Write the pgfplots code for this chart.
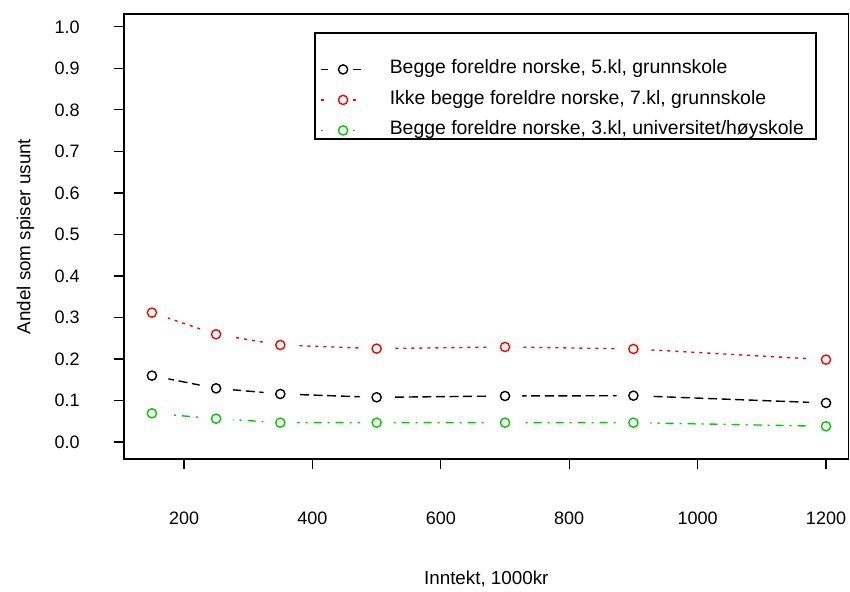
\documentclass[border=0pt]{standalone}
\usepackage{fontspec}
\setmainfont{Liberation Sans}
\usepackage{pgfplots}
\pgfplotsset{compat=1.18}
\definecolor{rred}{RGB}{255,0,0}
\definecolor{rgreen}{RGB}{0,205,0}
\begin{document}
\begin{tikzpicture}
\useasboundingbox (-62pt,-66pt) rectangle (363pt,229.5pt);
\begin{axis}[
  scale only axis,
  width=362.3pt, height=222.5pt,
  xmin=106.5, xmax=1235.2,
  ymin=-0.041, ymax=1.031,
  xtick={200,400,600,800,1000,1200},
  ytick={0,0.1,0.2,0.3,0.4,0.5,0.6,0.7,0.8,0.9,1.0},
  tick align=outside, tick pos=left,
  major tick length=5pt,
  every tick/.style={black, line width=0.6pt},
  axis line style={line width=0.7pt},
  /pgf/number format/assume math mode=true,
  /pgf/number format/1000 sep={},
  yticklabel style={/pgf/number format/.cd, fixed, fixed zerofill, precision=1, /tikz/.cd, anchor=east, inner sep=0pt, xshift=-17pt},
  xticklabel style={anchor=north, inner sep=0pt, yshift=-21.5pt},
  every tick label/.append style={font=\fontsize{9}{10}\selectfont},
  every axis x label/.style={at={(axis description cs:0.5,0)}, anchor=center, yshift=-60pt, font=\fontsize{9.4}{10}\selectfont},
  every axis y label/.style={at={(axis description cs:-0.136,0.5)}, anchor=center, rotate=90, font=\fontsize{9.4}{10}\selectfont},
  xlabel={Inntekt, 1000kr},
  ylabel={Andel som spiser usunt},
  legend style={draw=none, fill=none, inner sep=0pt, at={(rel axis cs:0.2705,0.8955)}, anchor=north west,
    font=\fontsize{9.7}{10}\selectfont, row sep=6.75pt, column sep=14pt,
    nodes={inner sep=0pt, text height=6.5pt, text depth=2pt}},
  legend cell align=left,
  legend image code/.code={
    \draw[#1,mark=none] (0pt,0pt) -- (3.5pt,0pt);
    \draw[#1,mark=none] (16pt,0pt) -- (20pt,0pt);
    \draw[#1,only marks] plot coordinates {(11pt,0pt)};
  },
]
% black
\addplot[black, line width=0.7pt, dash pattern=on 4.5pt off 2.3pt, mark=o, mark size=2.3pt, mark options={solid}]
  coordinates {(150,0.1598) (250,0.1293) (350,0.1157) (500,0.1076) (700,0.1108) (900,0.1116) (1200,0.094)};
\addlegendentry{Begge foreldre norske, 5.kl, grunnskole}
\addplot[forget plot, only marks, mark=*, mark size=8.2pt, mark options={draw=white, fill=white}]
  coordinates {(150,0.1598) (250,0.1293) (350,0.1157) (500,0.1076) (700,0.1108) (900,0.1116) (1200,0.094)};
\addplot[forget plot, only marks, black, line width=0.7pt, mark=o, mark size=2.3pt]
  coordinates {(150,0.1598) (250,0.1293) (350,0.1157) (500,0.1076) (700,0.1108) (900,0.1116) (1200,0.094)};
% red
\addplot[rred, line width=0.7pt, dash pattern=on 1.5pt off 2.5pt, mark=o, mark size=2.3pt, mark options={solid}]
  coordinates {(150,0.3116) (250,0.2595) (350,0.2337) (500,0.2249) (700,0.2289) (900,0.2241) (1200,0.1984)};
\addlegendentry{Ikke begge foreldre norske, 7.kl, grunnskole}
\addplot[forget plot, only marks, mark=*, mark size=8.2pt, mark options={draw=white, fill=white}]
  coordinates {(150,0.3116) (250,0.2595) (350,0.2337) (500,0.2249) (700,0.2289) (900,0.2241) (1200,0.1984)};
\addplot[forget plot, only marks, rred, line width=0.7pt, mark=o, mark size=2.3pt]
  coordinates {(150,0.3116) (250,0.2595) (350,0.2337) (500,0.2249) (700,0.2289) (900,0.2241) (1200,0.1984)};
% green
\addplot[rgreen, line width=0.7pt, dash pattern=on 1pt off 3pt on 4pt off 3pt, mark=o, mark size=2.3pt, mark options={solid}]
  coordinates {(150,0.0691) (250,0.0562) (350,0.0466) (500,0.0466) (700,0.0466) (900,0.0466) (1200,0.0378)};
\addlegendentry{Begge foreldre norske, 3.kl, universitet/høyskole}
\addplot[forget plot, only marks, mark=*, mark size=8.2pt, mark options={draw=white, fill=white}]
  coordinates {(150,0.0691) (250,0.0562) (350,0.0466) (500,0.0466) (700,0.0466) (900,0.0466) (1200,0.0378)};
\addplot[forget plot, only marks, rgreen, line width=0.7pt, mark=o, mark size=2.3pt]
  coordinates {(150,0.0691) (250,0.0562) (350,0.0466) (500,0.0466) (700,0.0466) (900,0.0466) (1200,0.0378)};
\draw[line width=0.6pt] (rel axis cs:0.2636,0.719) rectangle (rel axis cs:0.955,0.9573);
\end{axis}
\end{tikzpicture}
\end{document}
